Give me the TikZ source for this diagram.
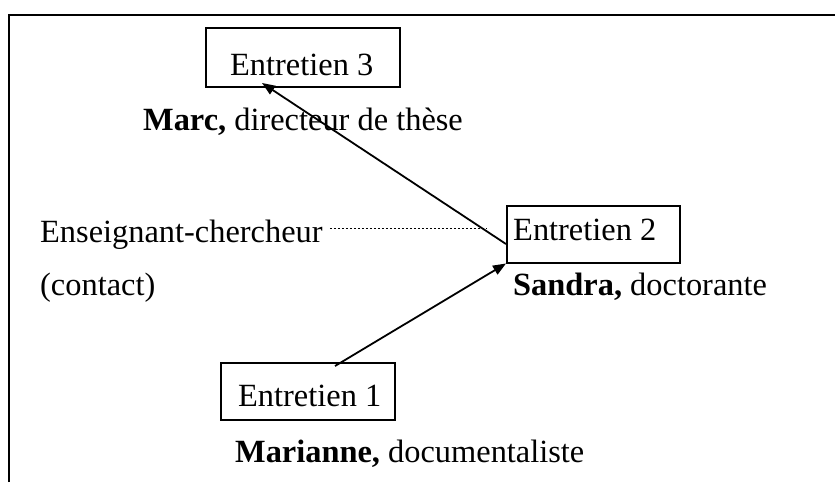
\documentclass[tikz,border=0pt]{standalone}
\usepackage{fontspec}
\setmainfont{Liberation Serif}
\usetikzlibrary{arrows.meta,calc}
\begin{document}
\begin{tikzpicture}[x=1pt,y=-1pt,
  txt/.style={inner sep=0pt,anchor=base west,font=\fontsize{32.4}{38}\selectfont},
  boxn/.style={draw,line width=2pt,inner sep=0pt},
  arr/.style={line width=1.8pt,-{Triangle[length=13pt,width=10pt]}},
  dashline/.style={line width=0.8pt,dash pattern=on 2.5pt off 1.5pt}]
\useasboundingbox (0,0) rectangle (835,482);
% frame
\draw[line width=2.6pt] (9,482) -- (9,15) -- (835,15);
% boxes
\node[boxn,minimum width=194pt,minimum height=59pt] (e3) at (303,57.5) {};
\node[boxn,minimum width=173pt,minimum height=57pt] (e2) at (593.5,234) {};
\node[boxn,minimum width=174pt,minimum height=57pt] (e1) at (308,391.5) {};
% texts
\node[txt] (t3) at (230,75) {Entretien 3};
\node[txt] (t2) at (513,240) {Entretien 2};
\node[txt] (t1) at (238,406) {Entretien 1};
\node[txt] (marc) at (143,130) {\textbf{Marc,} directeur de thèse};
\node[txt] (sandra) at (513,295) {\textbf{Sandra,} doctorante};
\node[txt] (ens) at (40,242) {Enseignant-chercheur};
\node[txt] (cont) at (40,295) {(contact)};
\node[txt] (mar) at (235,462) {\textbf{Marianne,} documentaliste};
% connectors
\coordinate (dA) at ($(ens.base east)+(7,-14)$);
\coordinate (dB) at ($(e2.west |- dA)+(-20,0)$);
\draw[dashline] (dA) -- (dB);
\draw[arr] ([xshift=27pt,yshift=-4pt]e1.north) -- (e2.south west);
\draw[arr] ([yshift=-10pt]e2.west) -- ([xshift=-41pt,yshift=5pt]e3.south);
\end{tikzpicture}
\end{document}
